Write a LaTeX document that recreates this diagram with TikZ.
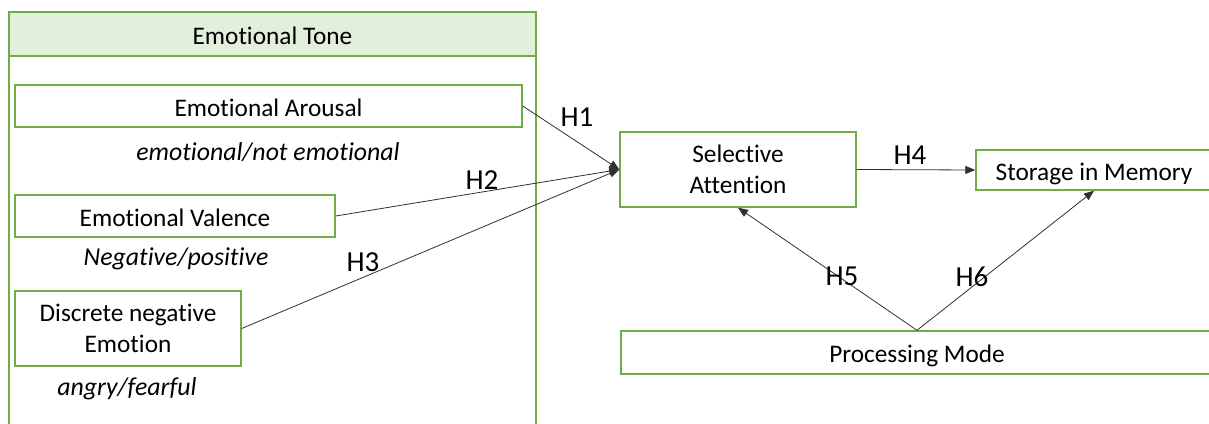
\documentclass[tikz,border=0pt]{standalone}
\usepackage{fontspec}
\setmainfont{Carlito}[Ligatures={NoCommon}]
\usetikzlibrary{arrows.meta}
\definecolor{boxgreen}{HTML}{70AD47}
\definecolor{headfill}{HTML}{E2EFDA}
\definecolor{linkgray}{HTML}{303030}
\begin{document}
\begin{tikzpicture}[x=1pt,y=-1pt,
  every node/.style={font=\fontsize{25.3}{30}\selectfont},
  gbox/.style={draw=boxgreen,line width=1.4pt,fill=white,inner sep=0pt,align=center},
  oneline/.style={text height=20pt,text depth=0pt},
  note/.style={font=\fontsize{25.8}{30}\selectfont\itshape,inner sep=0pt},
  hlabel/.style={inner sep=0pt,font=\fontsize{29}{34}\selectfont},
  link/.style={draw=linkgray,line width=0.8pt,-{Triangle[length=10pt,width=8pt]}}]
\useasboundingbox (0,0) rectangle (1209,423);
\clip (0,0) rectangle (1209,423);
% outer frame, open towards the bottom
\draw[boxgreen,line width=1.4pt] (9,440) -- (9,12) -- (536,12) -- (536,440);
\node[gbox,oneline,fill=headfill,minimum width=527pt,minimum height=44pt] (tone) at (272.5,34) {Emotional Tone};
% factors
\node[gbox,oneline,minimum width=507pt,minimum height=42pt] (arousal) at (268.5,106) {Emotional Arousal};
\node[note] (arousalnote) at (268,152) {emotional/not emotional};
\node[gbox,oneline,minimum width=320pt,minimum height=42pt] (valence) at (175,216) {Emotional Valence};
\node[note] (valencenote) at (176,259) {Negative/positive};
\node[gbox,minimum width=226pt,minimum height=75pt] (discrete) at (128,328.5) {Discrete negative\\[1pt]Emotion};
\node[note] (discretenote) at (127,389) {angry/fearful};
% outcomes
\node[gbox,minimum width=236pt,minimum height=75pt] (attn) at (738,169.5) {Selective\\[1pt]Attention};
\node[gbox,oneline,minimum width=236pt,minimum height=40pt] (mem) at (1094,170) {Storage in Memory};
\node[gbox,oneline,minimum width=592pt,minimum height=43pt] (mode) at (917,352.5) {Processing Mode};
% hypotheses
\draw[link] (arousal.east) -- (attn.west);
\draw[link] (valence.east) -- (attn.west);
\draw[link] (discrete.east) -- (attn.west);
\draw[link] (attn.east) -- (mem.west);
\draw[link] (mode.north) -- (attn.south);
\draw[link] (mode.north) -- (mem.south);
\node[hlabel] (h1) at (577,117) {H1};
\node[hlabel] (h2) at (482,180) {H2};
\node[hlabel] (h3) at (363,262) {H3};
\node[hlabel] (h4) at (910,155) {H4};
\node[hlabel] (h5) at (842,276) {H5};
\node[hlabel] (h6) at (972,277) {H6};
\end{tikzpicture}
\end{document}
